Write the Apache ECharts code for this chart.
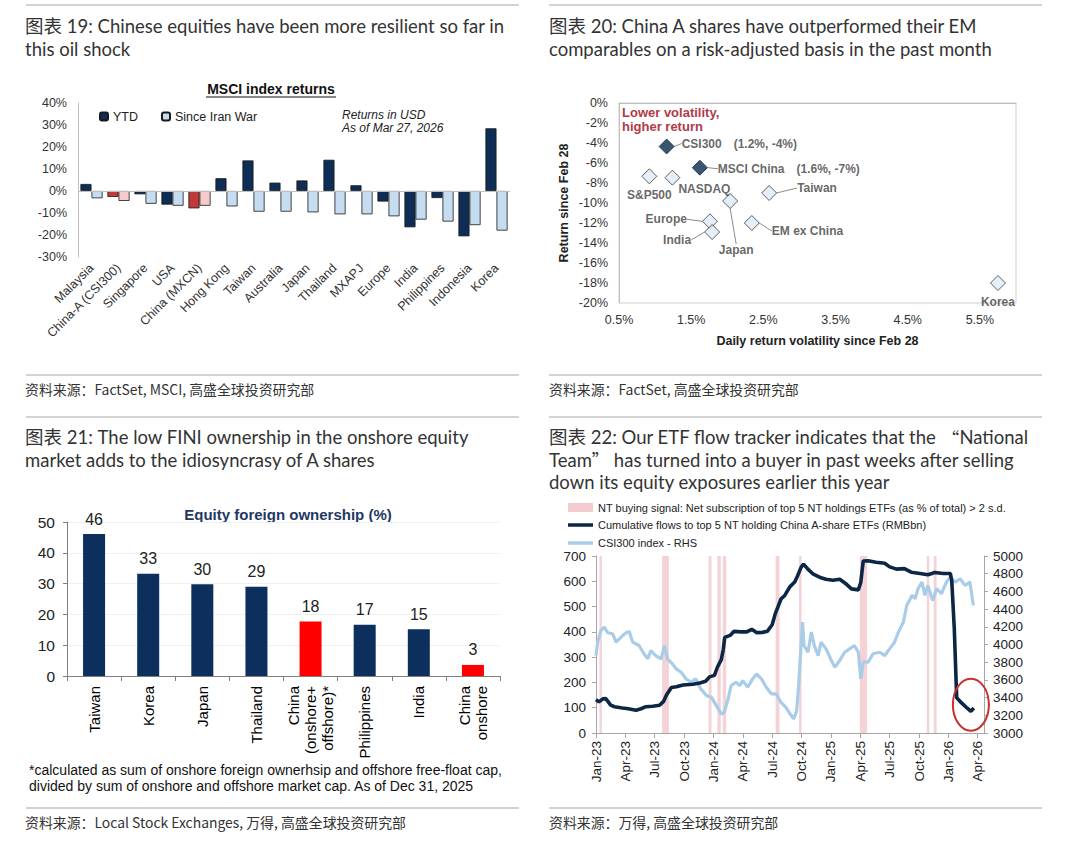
<!DOCTYPE html>
<html><head><meta charset="utf-8">
<script src="https://cdn.jsdelivr.net/npm/echarts@6/dist/echarts.min.js"></script>
<style>html,body{margin:0;padding:0;background:#fff;}#c{width:1080px;height:848px;}</style>
</head><body><div id="c"></div>
<script>
// ================= DATA =================
// Exhibit 19 - MSCI index returns (%)
const msciCategories = ['Malaysia','China-A (CSI300)','Singapore','USA','China (MXCN)','Hong Kong','Taiwan','Australia','Japan','Thailand','MXAPJ','Europe','India','Philippines','Indonesia','Korea'];
const ytdReturns = [3.2,-2.7,-1.5,-6.2,-7.9,5.8,13.9,3.8,4.8,14.2,2.6,-4.8,-16.5,-3.2,-20.6,28.5];
const sinceWarReturns = [-3.3,-4.5,-5.8,-6.7,-6.7,-7.0,-9.4,-9.4,-9.7,-10.6,-10.6,-11.5,-13.0,-13.9,-15.5,-18.0];
const chinaMsciCategories = ['China-A (CSI300)','China (MXCN)'];

// Exhibit 20 - volatility vs return (%)
const scatterNames = ['CSI300','MSCI China','S&P500','NASDAQ','Taiwan','Japan','Europe','India','EM ex China','Korea'];
const scatterVol = [1.16,1.62,0.92,1.24,2.58,2.04,1.76,1.79,2.34,5.75];
const scatterRet = [-4.35,-6.47,-7.33,-7.47,-9.0,-9.8,-11.83,-12.9,-12.0,-18.0];
const scatterNotes = {'CSI300':'(1.2%, -4%)','MSCI China':'(1.6%, -7%)'};
const scatterChina = ['CSI300','MSCI China'];

// Exhibit 21 - equity foreign ownership (%)
const ownershipCategories = ['Taiwan','Korea','Japan','Thailand','China\n(onshore+\noffshore)*','Philippines','India','China\nonshore'];
const ownershipValues = [46.1,33.2,29.8,29.0,17.7,16.6,15.2,3.6];
const ownershipLabels = ['46','33','30','29','18','17','15','3'];
const ownershipRedCategories = ['China\n(onshore+\noffshore)*','China\nonshore'];

// Exhibit 22 - x = months since Jan-2023
const quarterLabels = ['Jan-23','Apr-23','Jul-23','Oct-23','Jan-24','Apr-24','Jul-24','Oct-24','Jan-25','Apr-25','Jul-25','Oct-25','Jan-26','Apr-26'];
const flowSeries = [[0,132],[0.3,123],[0.7,135],[1.0,136],[1.5,110],[1.9,104],[2.7,99],[3.3,96],[4.1,90],[4.6,96],[5.1,104],[5.8,106],[6.5,110],[6.9,125],[7.2,150],[7.7,180],[8.2,183],[8.9,190],[9.9,193],[10.6,198],[11.2,205],[11.6,222],[12.1,228],[12.4,260],[12.8,290],[13.0,330],[13.15,378],[13.7,386],[14.1,402],[14.8,400],[15.4,400],[15.9,410],[16.4,397],[17.0,398],[17.5,402],[18.0,428],[18.3,470],[18.6,500],[18.9,530],[19.3,545],[19.8,578],[20.3,597],[20.6,622],[20.95,655],[21.2,668],[21.65,648],[22.2,628],[22.9,615],[23.5,608],[24.2,604],[24.9,608],[25.6,588],[26.1,570],[26.8,566],[27.05,595],[27.3,680],[27.8,681],[28.6,675],[29.5,671],[30.0,657],[30.7,648],[31.5,650],[32.2,636],[33.1,631],[33.9,626],[34.4,632],[34.6,635],[35.5,631],[36.2,631],[36.35,600],[36.6,417],[36.85,139],[37.35,119],[37.9,99],[38.3,86],[38.6,99]];
const csi300Series = [[0,3875],[0.17,4026],[0.5,4159],[0.85,4196],[1.2,4133],[1.7,4121],[2.05,4026],[2.56,4083],[3.07,4133],[3.4,4147],[3.75,4026],[4.4,3989],[4.9,3895],[5.3,3838],[5.6,3932],[6.1,3875],[6.65,3838],[7.0,3989],[7.3,3838],[7.8,3781],[8.2,3725],[8.7,3686],[9.2,3611],[9.7,3573],[10.2,3611],[10.7,3498],[11.3,3422],[11.8,3403],[12.3,3309],[12.8,3215],[13.1,3233],[13.5,3385],[13.8,3536],[14.3,3573],[14.7,3536],[15.0,3592],[15.5,3517],[16.0,3611],[16.4,3668],[16.9,3611],[17.4,3517],[17.9,3442],[18.4,3442],[18.9,3347],[19.4,3290],[19.8,3220],[20.2,3159],[20.5,3250],[20.7,3536],[21.1,4253],[21.25,3989],[21.66,3913],[22.0,4140],[22.3,3989],[22.7,3875],[23.0,4026],[23.5,3951],[24.05,3819],[24.4,3743],[24.9,3819],[25.4,3913],[25.9,3951],[26.4,3989],[26.8,3913],[27.05,3611],[27.3,3800],[27.8,3800],[28.3,3895],[29.0,3913],[29.5,3875],[30.0,3951],[30.5,4026],[30.9,4140],[31.4,4253],[31.75,4442],[32.3,4555],[32.6,4517],[32.9,4630],[33.3,4705],[33.6,4555],[33.9,4668],[34.4,4498],[34.8,4630],[35.3,4574],[35.8,4705],[36.2,4762],[36.7,4705],[37.2,4743],[37.7,4668],[38.2,4705],[38.55,4442]];
const ntSignalBands = [[0.35,0.6],[6.75,7.45],[11.5,11.8],[12.4,12.75],[12.95,13.3],[18.35,18.75],[20.75,21.0],[26.95,27.7],[33.8,34.05],[34.5,34.8]];
const circleAnchor = [38.3, 112];

// ================= STYLE / LAYOUT =================
const F = '"Liberation Sans", Arial, sans-serif';
const CJK = '"Noto Sans CJK SC", "Noto Sans", sans-serif';
const HEAD = 'Lato, "Noto Sans CJK SC", sans-serif';
const NAVY = '#0D2D55';
const chart = echarts.init(document.getElementById('c'), null, {renderer: 'svg'});

function txt(x, y, text, font, fill, align, lh, rich) {
  const style = {x: x, y: y, text: text, font: font, fill: fill || '#333',
    textAlign: align || 'left', align: align || 'left', textVerticalAlign: 'middle', verticalAlign: 'middle', lineHeight: lh || 22};
  if (rich) style.rich = rich;
  return {type: 'text', silent: true, style: style};
}
function hline(x1, x2, y, color) {
  return {type: 'line', silent: true, shape: {x1: x1, y1: y, x2: x2, y2: y}, style: {stroke: color || '#A6A6A6', lineWidth: 1}};
}
const HEAD_SIZE = 18.5;
const quoteRich = {q: {fontFamily: '"Noto Sans CJK SC"', fontSize: 17.3, fill: '#333', lineHeight: 20}};
// header: one text element per line
function header(x, yFirst, lines) {
  return lines.map((l, i) => txt(x, yFirst + i * 22.5, l, HEAD_SIZE + 'px ' + HEAD, '#333', 'left', 20, quoteRich));
}

const NT_NAME = 'NT buying signal: Net subscription of top 5 NT holdings ETFs (as % of total) > 2 s.d.';
const FLOW_NAME = 'Cumulative flows to top 5 NT holding China A-share ETFs (RMBbn)';
const CSI_NAME = 'CSI300 index - RHS';

const labelPlacement = {
  'CSI300': {pos: 'right', dx: 2, dy: -3, line: true},
  'MSCI China': {pos: 'right', dx: 5, dy: 1, line: true},
  'S&P500': {pos: 'bottom', dx: 0, dy: 0, line: false},
  'NASDAQ': {pos: 'right', dx: -7, dy: 11, line: false},
  'Taiwan': {pos: 'right', dx: 15, dy: -5, line: true},
  'Japan': {pos: 'bottom', dx: 6, dy: 30, line: true},
  'Europe': {pos: 'left', dx: -10, dy: -2, line: true},
  'India': {pos: 'left', dx: -8, dy: 8, line: true},
  'EM ex China': {pos: 'right', dx: 7, dy: 8, line: true},
  'Korea': {pos: 'bottom', dx: 0, dy: 0, line: false}
};

const graphics = [].concat(
  [hline(26, 519, 5), hline(549, 1042, 5),
   hline(26, 519, 375), hline(549, 1042, 375),
   hline(26, 519, 417), hline(549, 1042, 417),
   hline(26, 519, 808), hline(549, 1042, 808)],
  header(25, 26, ['图表 19: Chinese equities have been more resilient so far in', 'this oil shock']),
  header(549, 26, ['图表 20: China A shares have outperformed their EM', 'comparables on a risk-adjusted basis in the past month']),
  header(25, 437, ['图表 21: The low FINI ownership in the onshore equity', 'market adds to the idiosyncrasy of A shares']),
  header(549, 437, ['图表 22: Our ETF flow tracker indicates that the {q|“}National', 'Team{q|”} has turned into a buyer in past weeks after selling', 'down its equity exposures earlier this year']),
  [
  txt(25, 389, '资料来源：FactSet, MSCI, 高盛全球投资研究部', '13.9px ' + CJK, '#333'),
  txt(549, 389, '资料来源：FactSet, 高盛全球投资研究部', '13.9px ' + CJK, '#333'),
  txt(25, 822, '资料来源：Local Stock Exchanges, 万得, 高盛全球投资研究部', '13.9px ' + CJK, '#333'),
  txt(549, 822, '资料来源：万得, 高盛全球投资研究部', '13.9px ' + CJK, '#333'),
  // chart 19 title + notes
  txt(271, 89, 'MSCI index returns', 'bold 14px ' + F, '#111', 'center'),
  {type: 'line', silent: true, shape: {x1: 206, y1: 97, x2: 336, y2: 97}, style: {stroke: '#111', lineWidth: 1}},
  txt(342, 121.5, 'Returns in USD\nAs of Mar 27, 2026', 'italic 12px ' + F, '#222', 'left', 13.5),
  // chart 20 note
  txt(622, 119.5, 'Lower volatility,\nhigher return', 'bold 13px ' + F, '#B23A48', 'left', 13.5),
  // chart 21 title + footnote
  txt(288, 514, 'Equity foreign ownership (%)', 'bold 15px ' + F, '#1F3864', 'center'),
  txt(29, 778, '*calculated as sum of onshore foreign ownerhsip and offshore free-float cap,\ndivided by sum of onshore and offshore market cap. As of Dec 31, 2025', '14px ' + F, '#111', 'left', 16)
  ]
);

const option = {
  animation: false,
  textStyle: {fontFamily: F},
  graphic: {elements: graphics},
  legend: [
    {left: 99, top: 110, padding: 0, itemWidth: 8, itemHeight: 8, itemGap: 23, textStyle: {fontSize: 12.5, color: '#222', fontFamily: F},
     data: ['YTD', 'Since Iran War'], selectedMode: false},
    {left: 568, top: 501, padding: 0, orient: 'vertical', itemWidth: 25, itemHeight: 9, textStyle: {fontSize: 11, color: '#222', fontFamily: F, lineHeight: 13},
     data: [{name: NT_NAME, icon: 'rect'}], selectedMode: false},
    {left: 568, top: 518.5, padding: 0, orient: 'vertical', itemWidth: 25, itemHeight: 3.5, itemGap: 5, icon: 'rect',
     textStyle: {fontSize: 11, color: '#222', fontFamily: F, lineHeight: 13},
     data: [FLOW_NAME, CSI_NAME], selectedMode: false}
  ],
  grid: [
    {left: 78, top: 103, width: 432, height: 154},
    {left: 619, top: 103, width: 397, height: 200, show: true, borderColor: '#D0D0D0', borderWidth: 1},
    {left: 67, top: 522, width: 433, height: 154},
    {left: 596, top: 556, width: 388, height: 177}
  ],
  xAxis: [
    {gridIndex: 0, type: 'category', data: msciCategories, axisLine: {show: false}, axisTick: {show: false},
     axisLabel: {rotate: 45, interval: 0, fontSize: 12.5, color: '#333', margin: 9}},
    {gridIndex: 1, type: 'value', min: 0.5, max: 6, interval: 0.5, splitLine: {show: false},
     axisLine: {lineStyle: {color: '#BFBFBF'}}, axisTick: {show: false},
     axisLabel: {fontSize: 12.5, color: '#333', margin: 10,
       formatter: v => (Math.round(v * 2) % 2 === 1 ? v.toFixed(1) + '%' : '')},
     name: 'Daily return volatility since Feb 28', nameLocation: 'middle', nameGap: 31,
     nameTextStyle: {fontWeight: 'bold', fontSize: 12.5, color: '#222'}},
    {gridIndex: 2, type: 'category', data: ownershipCategories,
     axisLine: {lineStyle: {color: '#7F7F7F'}}, axisTick: {show: true, length: 5, lineStyle: {color: '#7F7F7F'}},
     axisLabel: {rotate: 90, interval: 0, fontSize: 15, color: '#000', margin: 10, lineHeight: 17}},
    {gridIndex: 3, type: 'value', min: 0, max: 39.64, interval: 3, splitLine: {show: false},
     axisLine: {lineStyle: {color: '#A6A6A6'}}, axisTick: {length: 5, lineStyle: {color: '#A6A6A6'}},
     axisLabel: {rotate: 90, fontSize: 13.5, color: '#222', margin: 8,
       formatter: v => quarterLabels[Math.round(v / 3)] || ''}}
  ],
  yAxis: [
    {gridIndex: 0, type: 'value', min: -30, max: 40, interval: 10, splitLine: {show: false},
     axisLine: {show: true, lineStyle: {color: '#BFBFBF'}}, axisTick: {show: false},
     axisLabel: {formatter: '{value}%', fontSize: 12.5, color: '#333', margin: 11}},
    {gridIndex: 1, type: 'value', min: -20, max: 0, interval: 2, splitLine: {show: false},
     axisLine: {show: true, lineStyle: {color: '#BFBFBF'}}, axisTick: {show: false},
     axisLabel: {formatter: '{value}%', fontSize: 12.5, color: '#333', margin: 11},
     name: 'Return since Feb 28', nameLocation: 'middle', nameGap: 49,
     nameTextStyle: {fontWeight: 'bold', fontSize: 12.5, color: '#222'}},
    {gridIndex: 2, type: 'value', min: 0, max: 50, interval: 10,
     splitLine: {show: true, lineStyle: {color: '#F0F0F0'}},
     axisLine: {show: true, lineStyle: {color: '#7F7F7F'}}, axisTick: {show: true, length: 4, lineStyle: {color: '#7F7F7F'}},
     axisLabel: {fontSize: 15.5, color: '#222', margin: 12}},
    {gridIndex: 3, type: 'value', min: 0, max: 700, interval: 100, splitLine: {show: false},
     axisLine: {show: true, lineStyle: {color: '#A6A6A6'}}, axisTick: {show: true, length: 4, lineStyle: {color: '#A6A6A6'}},
     axisLabel: {fontSize: 13.5, color: '#222', margin: 10, formatter: v => String(v)}},
    {gridIndex: 3, type: 'value', position: 'right', min: 3000, max: 5000, interval: 200, splitLine: {show: false},
     axisLine: {show: true, lineStyle: {color: '#A6A6A6'}}, axisTick: {show: true, length: 4, lineStyle: {color: '#A6A6A6'}},
     axisLabel: {fontSize: 13.5, color: '#222', margin: 9, formatter: v => String(v)}}
  ],
  series: [
    // ---- Exhibit 19
    {name: 'YTD', type: 'bar', xAxisIndex: 0, yAxisIndex: 0, barGap: '0%', barCategoryGap: '18%',
     itemStyle: {color: NAVY, borderColor: '#1a1a1a', borderWidth: 0.8},
     data: ytdReturns.map((v, i) => chinaMsciCategories.includes(msciCategories[i])
       ? {value: v, itemStyle: {color: '#C0393B'}} : v),
     markLine: {silent: true, symbol: 'none', label: {show: false}, lineStyle: {color: '#BFBFBF', type: 'solid', width: 1},
       data: [{yAxis: 0}]}},
    {name: 'Since Iran War', type: 'bar', xAxisIndex: 0, yAxisIndex: 0,
     itemStyle: {color: '#C6DDF1', borderColor: '#1a1a1a', borderWidth: 0.8},
     data: sinceWarReturns.map((v, i) => chinaMsciCategories.includes(msciCategories[i])
       ? {value: v, itemStyle: {color: '#F6CACA'}} : v)},
    // ---- Exhibit 20
    {type: 'scatter', xAxisIndex: 1, yAxisIndex: 1, symbol: 'diamond', symbolSize: 15,
     itemStyle: {color: '#DDEBF7', borderColor: '#3a3a3a', borderWidth: 1},
     label: {show: true, fontSize: 12, fontWeight: 'bold', color: '#404040', distance: 5,
       formatter: p => scatterNotes[p.name] ? '{n|' + p.name + '}{s|' + scatterNotes[p.name] + '}' : p.name,
       rich: {n: {fontSize: 12, fontWeight: 'bold', color: '#404040'},
              s: {fontSize: 12, fontWeight: 'bold', color: '#404040', padding: [0, 0, 0, 12]}}},
     labelLayout: p => ({dx: labelPlacement[scatterNames[p.dataIndex]].dx, dy: labelPlacement[scatterNames[p.dataIndex]].dy}),
     data: scatterNames.map((n, i) => ({
       name: n, value: [scatterVol[i], scatterRet[i]],
       itemStyle: scatterChina.includes(n) ? {color: '#0B2A4A', borderColor: '#0B2A4A'} : undefined,
       label: {position: labelPlacement[n].pos},
       labelLine: {show: labelPlacement[n].line, lineStyle: {color: '#8c8c8c', width: 1}}
     }))},
    // ---- Exhibit 21
    {type: 'bar', xAxisIndex: 2, yAxisIndex: 2, barWidth: 22,
     itemStyle: {color: '#0C2F5E'},
     label: {show: true, position: 'top', distance: 7, fontSize: 16, color: '#222',
       formatter: p => ownershipLabels[p.dataIndex]},
     data: ownershipValues.map((v, i) => ownershipRedCategories.includes(ownershipCategories[i])
       ? {value: v, itemStyle: {color: '#FF0000'}} : v)},
    // ---- Exhibit 22
    {name: NT_NAME, type: 'line', xAxisIndex: 3, yAxisIndex: 3, data: [], symbol: 'none',
     itemStyle: {color: '#F2CBD0'}, lineStyle: {color: '#F2CBD0'},
     markArea: {silent: true, itemStyle: {color: '#F2CBD0', opacity: 0.85},
       data: ntSignalBands.map(b => [{xAxis: b[0]}, {xAxis: b[1]}])}},
    {name: CSI_NAME, type: 'line', xAxisIndex: 3, yAxisIndex: 4, data: csi300Series, symbol: 'none', z: 3,
     itemStyle: {color: '#A9CCE8'}, lineStyle: {color: '#A9CCE8', width: 3.2}},
    {name: FLOW_NAME, type: 'line', xAxisIndex: 3, yAxisIndex: 3, data: flowSeries, symbol: 'none', z: 4,
     itemStyle: {color: '#0B2745'}, lineStyle: {color: '#0B2745', width: 3.6}},
    {type: 'custom', xAxisIndex: 3, yAxisIndex: 3, data: [circleAnchor], silent: true, z: 6, clip: false,
     renderItem: (params, api) => {
       const p = api.coord([api.value(0), api.value(1)]);
       return {type: 'ellipse', shape: {cx: p[0], cy: p[1], rx: 18, ry: 26},
               style: {fill: 'none', stroke: '#C8302E', lineWidth: 2}};
     }}
  ]
};
chart.setOption(option);
</script></body></html>
